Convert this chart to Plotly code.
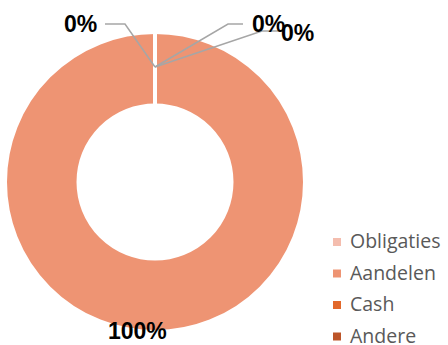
import plotly.graph_objects as go

# Asset allocation data
labels = ["Obligaties", "Aandelen", "Cash", "Andere"]
values = [0, 100, 0, 0]
colors = ["#F4BDAE", "#EE9473", "#E2682B", "#BC5529"]

W, H = 448, 345

def px(x):
    return x / W

def py(y):
    return 1 - y / H

total = sum(values)
pct = [f"{round(100 * v / total)}%" for v in values]

fig = go.Figure(
    go.Pie(
        labels=labels,
        values=values,
        hole=0.51,
        sort=False,
        direction="clockwise",
        rotation=0,
        marker=dict(colors=colors, line=dict(color="white", width=4)),
        textinfo="none",
        hoverinfo="label+percent",
        showlegend=False,
        domain=dict(x=[px(5), px(305)], y=[py(332), py(32)]),
    )
)

shapes = []
annotations = []

# Leader lines from the top of the ring to the labels of the empty slices
origin = (155, 67)
label_pos = {0: (80, 24), 2: (268, 24), 3: (297, 33)}
elbows = {0: [(125, 24), (105, 24)], 2: [(228, 24), (243, 24)], 3: [(262, 31), (280, 31)]}
for i, (lx, ly) in label_pos.items():
    pts = [origin] + elbows[i]
    path = "M " + " L ".join(f"{px(x)},{py(y)}" for x, y in pts)
    shapes.append(dict(type="path", xref="paper", yref="paper", path=path,
                       line=dict(color="#A6A6A6", width=1.5)))

for i, (lx, ly) in label_pos.items():
    annotations.append(dict(x=px(lx), y=py(ly), xref="paper", yref="paper",
                            text=pct[i], showarrow=False, xanchor="center", yanchor="middle",
                            font=dict(family="Liberation Sans", size=23, color="black", weight="bold")))

# Label for the full slice
annotations.append(dict(x=px(137), y=py(331), xref="paper", yref="paper",
                        text=pct[1], showarrow=False, xanchor="center", yanchor="middle",
                        font=dict(family="Liberation Sans", size=23, color="black", weight="bold")))

# Legend
leg_x, leg_y0, leg_dy = 337, 242, 31.5
for i, (lab, col) in enumerate(zip(labels, colors)):
    cy = leg_y0 + i * leg_dy
    shapes.append(dict(type="rect", xref="paper", yref="paper",
                       x0=px(leg_x - 4), x1=px(leg_x + 4), y0=py(cy + 4), y1=py(cy - 4),
                       fillcolor=col, line=dict(width=0)))
    annotations.append(dict(x=px(348), y=py(cy - 1.5), xref="paper", yref="paper",
                            text=lab, showarrow=False, xanchor="left", yanchor="middle",
                            font=dict(family="Open Sans", size=19.5, color="#595959")))

fig.update_layout(
    width=W, height=H,
    margin=dict(l=0, r=0, t=0, b=0),
    paper_bgcolor="white", plot_bgcolor="white",
    shapes=shapes, annotations=annotations,
)

fig.write_html("out.html")
